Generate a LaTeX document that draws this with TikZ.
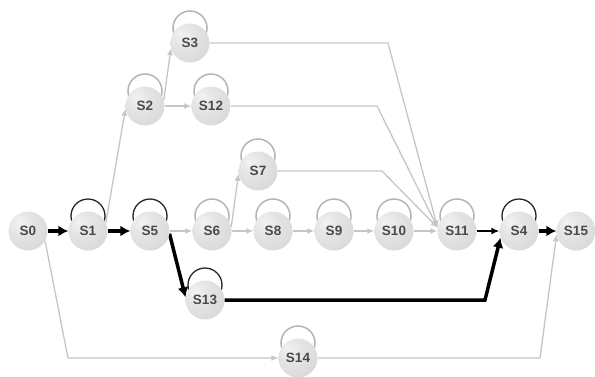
\documentclass[tikz,border=0pt]{standalone}
\usepackage{fontspec}
\setmainfont{Liberation Sans}
\usetikzlibrary{arrows.meta,calc}

\definecolor{edgegray}{HTML}{C6C6C6}
\definecolor{loopgray}{HTML}{B4B4B4}
\definecolor{labelgray}{HTML}{4A4A4A}
\definecolor{ballhi}{HTML}{F2F2F2}
\definecolor{ballmid}{HTML}{E4E4E4}
\definecolor{balllo}{HTML}{CACACA}

% light ball with the highlight towards the upper left
\pgfdeclareradialshading{stateball}{\pgfpoint{-12bp}{12bp}}{%
  color(0bp)=(ballhi); color(16bp)=(ballmid); color(66bp)=(balllo); color(100bp)=(balllo)}

\pgfdeclarelayer{back}
\pgfsetlayers{back,main}

\begin{document}
\begin{tikzpicture}[x=1pt,y=-1pt,
  state/.style={circle, minimum size=39pt, inner sep=0pt, shade, shading=stateball,
                font=\bfseries\fontsize{13.5}{13.5}\selectfont, text=labelgray},
  flow/.style={draw=edgegray, line width=1.3pt, -{Latex[length=7pt,width=6pt]}},
  hot/.style={draw=black, line width=3.5pt, -{Latex[length=10pt,width=11pt]}},
  link/.style={draw=black, line width=1.4pt, -{Latex[length=8pt,width=7pt]}},
  ring/.style={draw=loopgray, line width=1.5pt},
  hotring/.style={draw=black!85, line width=1.3pt}]

\useasboundingbox (0,0) rectangle (595,376);

% states
\node[state] (S0)  at (28,231)  {S0};
\node[state] (S1)  at (88,231)  {S1};
\node[state] (S5)  at (150,231) {S5};
\node[state] (S6)  at (212,231) {S6};
\node[state] (S8)  at (273,231) {S8};
\node[state] (S9)  at (334,231) {S9};
\node[state] (S10) at (394,231) {S10};
\node[state] (S11) at (457,231) {S11};
\node[state] (S4)  at (519,231) {S4};
\node[state] (S15) at (576,231) {S15};
\node[state] (S2)  at (145,106) {S2};
\node[state] (S12) at (211,106) {S12};
\node[state] (S3)  at (190,43)  {S3};
\node[state] (S7)  at (258,171) {S7};
\node[state] (S13) at (205,300) {S13};
\node[state] (S14) at (298,358) {S14};

\begin{pgfonlayer}{back}
  % self-loops, partly hidden behind their states
  \foreach \s in {S2,S3,S12,S6,S7,S8,S9,S10,S11,S14}
    \draw[ring] ($(\s)+(0,-15)$) circle[radius=17];
  \foreach \s in {S1,S5,S4,S13}
    \draw[hotring] ($(\s)+(0,-15)$) circle[radius=17];

  % light transitions
  \draw[flow] (S5) -- (S6);
  \draw[flow] (S6) -- (S8);
  \draw[flow] (S8) -- (S9);
  \draw[flow] (S9) -- (S10);
  \draw[flow] (S10) -- (S11);
  \draw[flow] (S1.25) -- (S2.188);
  \draw[flow] (S2.18) -- (S3.195);
  \draw[flow] (S2) -- (S12);
  \draw[flow] (S6.12) -- (S7.188);
  \draw[flow] (S3) -- (388,43) -- (S11.170);
  \draw[flow] (S12) -- (377,106) -- (S11.170);
  \draw[flow] (S7) -- (382,171) -- (S11.170);
  \draw[flow] (S0.-30) -- (68,358) -- (S14);
  \draw[flow] (S14) -- (540,358) -- (S15.190);

  % highlighted path
  \draw[hot] (S0) -- (S1);
  \draw[hot] (S1) -- (S5);
  \draw[hot] (S5.-8) -- (S13.172);
  \draw[hot] (S13) -- (485,300) -- (S4.200);
  \draw[link] (S11) -- (S4);
  \draw[hot] (S4) -- (S15);
\end{pgfonlayer}
\end{tikzpicture}
\end{document}
